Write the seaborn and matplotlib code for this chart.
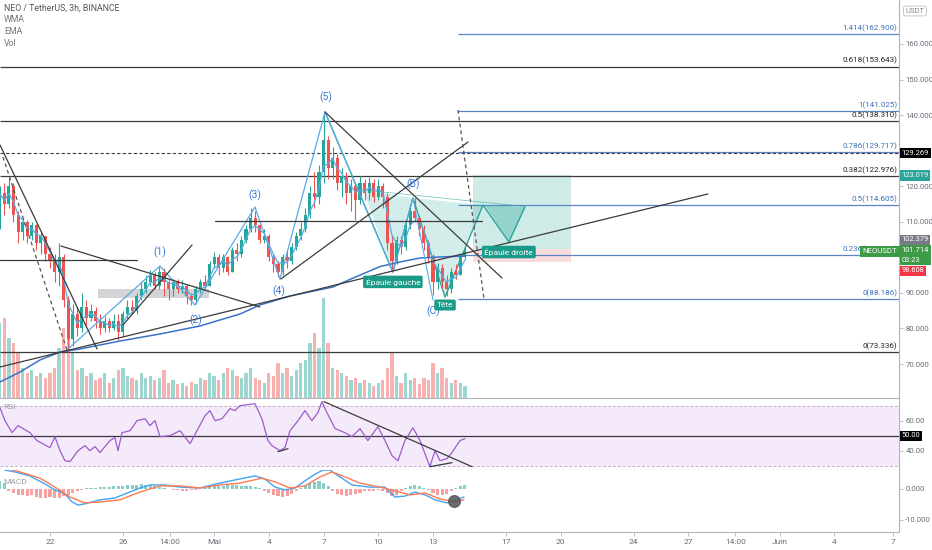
import numpy as np
import pandas as pd
import matplotlib
matplotlib.use("Agg")
import matplotlib.pyplot as plt
import matplotlib.patches as mpatches
import seaborn as sns

sns.set_style("white")
plt.rcParams['font.family'] = ['Roboto', 'DejaVu Sans']

# ---- price data (6h candles, NEO/USDT) ----
first_open = 110
close = [118, 115, 120, 112, 107, 110, 106, 109, 104, 106,
         101, 99, 96, 100, 88, 77, 84, 80, 86, 83,
         85, 82, 80, 82, 80, 82, 79, 84, 86, 85,
         89, 91, 93, 95, 92, 96, 93, 91, 93, 91,
         92, 89, 88, 91, 93, 92, 98, 100, 97, 100,
         96, 102, 101, 105, 108, 111, 109, 105, 106, 100,
         98, 96, 100, 99, 103, 106, 108, 112, 118, 117,
         124, 133, 125, 128, 121, 123, 118, 120, 116, 121,
         118, 121, 117, 120, 117, 104, 99, 105, 103, 109,
         113, 111, 108, 104, 100, 93, 97, 93, 91, 96,
         95, 100, 101.7]
high = [120, 121, 122.3, 121, 113, 111, 110.5, 110, 109.5, 107.5,
        106, 103, 101, 104, 101, 89, 87, 86, 90, 88,
        87, 86, 84, 83.5, 83, 84, 84, 85, 88, 88,
        90, 93, 95, 96.5, 96, 97.5, 97, 94, 94, 94,
        93.5, 92.5, 90, 92, 94, 95, 99, 101.5, 101, 101,
        100.5, 103, 104, 106, 109, 113.9, 113, 109.5, 108, 106.5,
        101, 99, 101, 102, 104, 107, 110, 114, 120, 124,
        126, 141, 134, 131, 129, 125, 124, 122, 121, 123,
        122, 122.5, 122, 122, 121, 118, 106, 106, 106, 110,
        115, 116.7, 112, 109, 105, 101, 98.5, 98, 95, 97,
        98, 101, 103]
low = [108, 112, 114, 110, 104, 105, 104, 105, 102, 101,
       99, 97, 93, 92, 86, 73.5, 75, 78, 79, 81,
       82, 80, 78.5, 79, 79, 79.5, 76.8, 78, 83, 84,
       84, 88, 90, 92, 91, 91, 89, 88, 89, 90,
       90, 87, 86.6, 87, 90, 91, 92, 97, 95, 96,
       95, 96, 99, 100, 104, 107, 107, 104, 104, 99,
       96, 94.5, 95, 97, 98, 102, 105, 107, 111, 114,
       115, 121, 122, 122, 119, 117, 115, 113, 110.5, 115,
       116, 116, 115.5, 116, 114, 102, 96, 98, 101, 102,
       108, 110, 106, 102, 98.5, 89.5, 91, 91.5, 89.2, 90,
       94, 95, 99.5]
volume = [75, 80, 60, 55, 45, 30, 25, 28, 22, 25,
          20, 25, 30, 50, 70, 75, 45, 28, 30, 22,
          25, 18, 20, 25, 15, 20, 28, 30, 22, 20,
          18, 25, 20, 22, 18, 20, 28, 15, 18, 14,
          15, 12, 16, 14, 20, 18, 25, 22, 18, 25,
          30, 28, 22, 20, 25, 30, 20, 18, 15, 25,
          22, 35, 25, 30, 22, 28, 35, 38, 55, 65,
          50, 100, 55, 30, 28, 25, 22, 18, 20, 15,
          18, 15, 12, 15, 18, 30, 45, 22, 15, 25,
          18, 20, 14, 20, 18, 35, 25, 30, 20, 15,
          18, 15, 12]
macd_hist = [2.5, 2.0,
             -0.8, -1.2, -1.8, -2.0, -2.2, -2.0,
             -2.5, -2.8, -3.0, -2.6, -2.8, -3.0, -2.4, -1.8,
             -1.2, -0.8, -0.4, 0.2,
             0.3, 0.4, 0.5, 0.6, 0.7, 0.8, 0.8, 1.0, 1.2, 1.3, 1.4,
             1.5, 1.4, 1.2, 0.9, 0.6, 0.3, 0.1,
             -0.2, -0.4, -0.5, -0.5, -0.4, -0.3, -0.1, 0.2,
             0.5, 0.8, 1.0, 1.1, 1.2, 1.3, 1.2, 1.1, 1.0, 0.9, 0.7, 0.4,
             -0.6, -1.2, -1.8, -2.4, -2.6, -2.2, -1.6,
             -0.6, 0.4, 1.2, 1.8, 2.2, 2.5, 2.0, 1.0,
             -0.8, -1.5, -2.0, -2.2, -2.0, -1.6, -1.2,
             -0.8, -0.6, -0.5, -0.3, -0.6, -1.4, -2.2,
             -1.8, -0.8, 0.2, 0.8, 1.2, 1.0,
             0.4, -0.4, -1.2, -1.8, -2.0, -1.6, -0.8,
             0.2, 0.8, 1.2]

# long EMA, days since 22 Apr
ema_days = [-2.74, -1.64, -0.55, 0.55, 1.64, 3.84, 6.03, 8.22, 10.42, 11.51,
            13.16, 15.52, 16.45, 18.09, 19.19, 20.29, 21.38, 22.75]
ema_vals = [64.95, 67.76, 71.14, 73.39, 74.23, 76.48, 78.45, 80.70, 84.07, 86.60,
            89.13, 91.67, 93.8, 97.4, 98.70, 99.82, 100.10, 100.38]

rsi_days = [-2.74, -2.47, -2.08, -1.75, -1.10, -0.71, 0, 0.27, 0.55, 0.82,
            1.10, 1.54, 1.92, 2.19, 2.47, 2.74, 3.29, 3.56, 3.73, 3.95,
            4.39, 4.77, 5.21, 5.48, 5.76, 6.03, 6.58, 7.13, 7.68, 8.06,
            8.50, 8.77, 9.05, 9.43, 9.87, 10.14, 10.42, 11.24, 11.62, 11.95,
            12.17, 12.61, 12.88, 13.16, 13.60, 13.98, 14.36, 14.69, 14.91, 15.13,
            15.63, 16.17, 16.56, 17.00, 17.43, 17.98, 18.37, 18.75, 19.08, 19.46,
            19.90, 20.29, 20.83, 21.11, 21.38, 21.77, 22.04, 22.48, 22.75]
rsi_vals = [68.7, 60, 52, 56.7, 52, 46.7, 42, 49.3, 40, 33.3,
            32.7, 40, 43.3, 40, 42.7, 38.7, 46.7, 48.7, 40, 52,
            53.3, 60, 61.3, 56.7, 60, 49.3, 50, 53.3, 44.7, 53.3,
            63.3, 66.7, 60, 61.3, 68, 66.7, 70, 71.3, 61.3, 46.7,
            43.3, 40, 42, 53.3, 60, 66.7, 60, 65.3, 72.7, 66.7,
            54.7, 52, 49.3, 54.7, 46.7, 56, 46.7, 36.7, 33.3, 46.7,
            55.3, 46.7, 29.3, 40, 33.3, 34.7, 38.7, 46.7, 48]

macd_days = [-2.47, -1.92, -1.10, -0.27, 0.27, 0.82, 1.21, 1.54, 1.92, 2.74,
             3.56, 4.11, 4.93, 5.48, 6.30, 7.13, 8.22, 8.88, 9.87, 11.24,
             11.79, 12.34, 12.88, 13.43, 13.98, 14.53, 14.97, 15.35, 15.90, 16.56,
             17.54, 18.37, 18.91, 19.46, 20.01, 20.56, 21.11, 21.77, 22.31, 22.70]
macd_vals = [6.1, 5.5, 4.2, 1.6, -0.3, -1.6, -4.2, -5.2, -4.8, -3.5,
             -2.9, -1.6, 0.3, 1.3, 1.3, 0.6, 0.3, 1.3, 2.6, 4.2,
             3.2, 0.6, -0.3, 0.3, 2.6, 4.8, 6.1, 6.1, 3.9, 1.3,
             0.6, 0.6, -2.6, -2.3, -1.0, -1.9, -3.5, -4.5, -3.5, -2.6]
sig_days = [-2.47, -1.64, -0.55, 0.27, 1.10, 1.92, 2.74, 3.84, 4.93, 6.03,
            7.13, 8.22, 9.32, 10.42, 11.62, 12.34, 13.16, 13.98, 14.80, 15.46,
            16.17, 16.99, 18.09, 18.91, 19.74, 20.56, 21.38, 22.20, 22.70]
sig_vals = [6.8, 5.5, 3.5, 0.6, -2.6, -4.5, -4.2, -3.5, -1.0, 1.0,
            1.0, 0.3, 1.3, 1.9, 3.5, 2.3, 0.3, 1.0, 3.9, 5.5,
            3.9, 1.9, 0.6, -0.6, -1.9, -1.3, -3.2, -4.2, -3.5]

# fib levels
fib_black = [(0.618, 153.643), (0.5, 138.310), (0.382, 122.976), (0, 73.336)]
fib_blue = [(1.414, 162.900), (1, 141.025), (0.786, 129.717), (0.5, 114.605),
            (0.236, 100.656), (0, 88.186)]
fib_blue_start = 22.37
dashed_level = 129.269

# drawings (days, price)
trendlines = [((-2.74, 131.60), (2.58, 74.23)),
              ((-2.74, 69.17), (36.07, 117.82)),
              ((0.60, 103.19), (11.51, 86.04)),
              ((4.00, 80.98), (7.79, 103.47)),
              ((12.66, 93.92), (22.92, 132.44)),
              ((15.08, 140.88), (24.78, 94.20)),
              ((-2.74, 99.26), (4.77, 99.26)),
              ((9.05, 110.22), (23.68, 110.22))]
dashed_lines = [((-2.58, 128.22), (0.93, 73.95)),
                ((22.37, 141.44), (23.79, 88.57))]
wave_x = [0.93, 6.03, 7.95, 11.24, 12.61, 15.08]
wave_y = [73.95, 97.57, 86.6, 114.16, 93.92, 140.88]
abc_x = [15.08, 18.80, 19.90, 21.0]
abc_y = [140.88, 95.88, 116.69, 88.0]
hs_x = [15.08, 18.80, 19.90, 21.66, 23.74, 25.16, 26.04]
hs_y = [140.88, 95.88, 116.69, 88.85, 114.72, 104.32, 114.16]
wave_labels = [("(1)", 6.03, 101.5), ("(2)", 8.0, 82.4), ("(3)", 11.24, 117.5),
               ("(4)", 12.55, 90.5), ("(5)", 15.13, 145.1), ("(B)", 19.9, 120.6),
               ("(C)", 21.0, 84.9)]
hs_labels = [("Épaule gauche", 18.8, 93.1), ("Tête", 21.66, 86.6),
             ("Épaule droite", 25.16, 101.5)]

tick_days = [0, 4, 6.58, 9, 12, 15, 18, 21, 25, 28, 32, 35, 37.58, 40, 43, 46.2]
tick_labels = ['22', '26', '14:00', 'Mai', '4', '7', '10', '13', '17', '20',
               '24', '27', '14:00', 'Juin', '4', '7']

GREEN = '#26a69a'
RED = '#ef5350'
BLUE_FIB = '#5b84c4'
LINE = '#3b3b3b'
TXT = '#6a6d78'

times = pd.date_range('2021-04-19 06:00', periods=len(close), freq='6h')
x = ((times - pd.Timestamp('2021-04-22')) / pd.Timedelta(days=1)).to_numpy()
c = np.array(close, dtype=float)
o = np.concatenate([[first_open], c[:-1]])
hi = np.array(high)
lo = np.array(low)
up = c >= o
cols = np.where(up, GREEN, RED)

W, H = 932, 550


def frame(top, bottom):
    return [0, 1 - bottom / H, 899 / W, (bottom - top) / H]


fig = plt.figure(figsize=(9.32, 5.5), dpi=100)
ax = fig.add_axes(frame(0, 398))
ax_vol = ax.twinx()
ax_rsi = fig.add_axes(frame(398, 470), sharex=ax)
ax_macd = fig.add_axes(frame(470, 532), sharex=ax)
ax.set_zorder(ax_vol.get_zorder() + 1)
ax.patch.set_visible(False)

XMIN, XMAX = -2.74, 46.55
ax.set_xlim(XMIN, XMAX)
ax.set_ylim(60.45, 172.37)

# volume
ax_vol.bar(x, volume, width=0.18, color=cols, alpha=0.45, linewidth=0)
ax_vol.set_ylim(0, 398)
ax_vol.yaxis.set_visible(False)
for s in ax_vol.spines.values():
    s.set_visible(False)

# fib + horizontal levels
for r, lv in fib_black:
    ax.hlines(lv, XMIN, XMAX, color=LINE, lw=0.9, zorder=2)
    ax.text(46.45, lv + 0.6, f"{r:g}({lv:.3f})", ha='right', va='bottom',
            fontsize=5.8, color='#222222')
for r, lv in fib_blue:
    ax.hlines(lv, fib_blue_start, XMAX, color=BLUE_FIB, lw=0.9, zorder=2)
    ax.text(46.45, lv + 0.6, f"{r:g}({lv:.3f})", ha='right', va='bottom',
            fontsize=5.8, color='#3d6fb8')
ax.hlines(dashed_level, XMIN, XMAX, color=LINE, lw=0.8, linestyles=(0, (3, 2)), zorder=2)

# grey consolidation box
ax.add_patch(mpatches.Rectangle((2.63, 88.6), 6.09, 2.5, color='#b8b8bc', alpha=0.6, lw=0, zorder=2))

# long / short position box
ax.add_patch(mpatches.Rectangle((23.19, 102.35), 5.37, 20.81, color=GREEN, alpha=0.22, lw=0, zorder=1))
ax.add_patch(mpatches.Rectangle((23.19, 98.7), 5.37, 3.65, color=RED, alpha=0.2, lw=0, zorder=1))

# head & shoulders fills
ax.fill([17.16, 18.80, 19.90], [118.94, 95.88, 116.69], color=GREEN, alpha=0.2, lw=0, zorder=2)
ax.fill([19.90, 21.66, 23.74], [116.69, 88.85, 114.72], color=GREEN, alpha=0.2, lw=0, zorder=2)
ax.fill([23.85, 25.16, 26.04], [114.72, 104.32, 114.16], color=GREEN, alpha=0.35, lw=0, zorder=2)
ax.plot([17.16, 26.04], [118.94, 114.3], color=GREEN, lw=0.6, alpha=0.6, zorder=3)
ax.plot(hs_x, hs_y, color=GREEN, lw=1.0, zorder=3)

# candles
ax.vlines(x, lo, hi, color=cols, lw=0.8, zorder=4)
ax.bar(x, np.maximum(np.abs(c - o), 0.3), bottom=np.minimum(o, c), width=0.17,
       color=cols, linewidth=0, zorder=4)

# moving averages
wma = pd.Series(c).rolling(4, min_periods=1).apply(
    lambda w: np.dot(w, np.arange(1, len(w) + 1)) / np.arange(1, len(w) + 1).sum(), raw=True)
sns.lineplot(x=x, y=wma.to_numpy(), ax=ax, color='#55aee8', lw=0.9, estimator=None, zorder=5)
sns.lineplot(x=ema_days, y=ema_vals, ax=ax, color='#3b72c8', lw=1.1, estimator=None, zorder=5)

# elliott waves
ax.plot(wave_x, wave_y, color='#5aa9e6', lw=0.9, zorder=5)
ax.plot(abc_x, abc_y, color='#5aa9e6', lw=0.8, zorder=5)

# trend lines
for (x0, y0), (x1, y1) in trendlines:
    ax.plot([x0, x1], [y0, y1], color=LINE, lw=0.9, zorder=6)
for (x0, y0), (x1, y1) in dashed_lines:
    ax.plot([x0, x1], [y0, y1], color='#555555', lw=0.9, ls=(0, (3, 2.5)), zorder=6)

for t, tx, ty in wave_labels:
    ax.text(tx, ty, t, ha='center', va='center', fontsize=7.5, color='#3d7bd1', zorder=7)
for t, tx, ty in hs_labels:
    ax.text(tx, ty, t, ha='center', va='center', fontsize=6, color='white', zorder=8,
            bbox=dict(boxstyle='round,pad=0.3,rounding_size=0.2', fc='#1a9a88', ec='none'))

# price axis
ax.yaxis.tick_right()
price_ticks = [70, 80, 90, 110, 120, 140, 150, 160]
ax.set_yticks(price_ticks)
ax.set_yticklabels([f"{v:.3f}" for v in price_ticks])


def price_tag(axis, y, text, fc, tc='white', va='center'):
    axis.text(1.003, y, text, transform=axis.get_yaxis_transform(), ha='left', va=va,
              fontsize=5.4, color=tc, zorder=10, clip_on=False, linespacing=1.5,
              bbox=dict(boxstyle='square,pad=0.22', fc=fc, ec='none'))


price_tag(ax, 129.269, "129.269", 'black')
price_tag(ax, 123.019, "123.019", GREEN)
price_tag(ax, 104.9, "102.379", '#787b86')
price_tag(ax, 102.9, "101.714\n03:23", '#3d9a45', va='top')
price_tag(ax, 96.2, "98.608", '#f23645')
ax.text(46.45, 101.714, "NEOUSDT", ha='right', va='center', fontsize=5.6, color='white', zorder=10,
        bbox=dict(boxstyle='square,pad=0.3', fc='#3d9a45', ec='none'))

# RSI
ax_rsi.set_ylim(27.1, 75.1)
ax_rsi.axhspan(30, 70, color='#b25fe0', alpha=0.13, lw=0)
ax_rsi.axhline(70, color='#c0b0c8', lw=0.7, ls=(0, (3, 2)))
ax_rsi.axhline(30, color='#c0b0c8', lw=0.7, ls=(0, (3, 2)))
ax_rsi.axhline(50, color='#3a3340', lw=0.9)
sns.lineplot(x=rsi_days, y=rsi_vals, ax=ax_rsi, color='#9c5ccc', lw=0.9, estimator=None)
ax_rsi.plot([15.02, 23.14], [72.7, 29.3], color=LINE, lw=0.9)
ax_rsi.plot([12.5, 13.05], [39.3, 41.3], color=LINE, lw=0.9)
ax_rsi.plot([20.83, 22.04], [29.3, 32.0], color=LINE, lw=0.9)
ax_rsi.yaxis.tick_right()
ax_rsi.set_yticks([40, 60])
ax_rsi.set_yticklabels(["40.00", "60.00"])
price_tag(ax_rsi, 50, "50.00", 'black')
ax_rsi.text(0.004, 0.88, "RSI", transform=ax_rsi.transAxes, fontsize=6, color='#9a9aa5', va='center')

# MACD
ax_macd.set_ylim(-13.9, 6.13)
hcol = [GREEN if v >= 0 else RED for v in macd_hist]
ax_macd.bar(x, macd_hist, width=0.17, color=hcol, alpha=0.55, linewidth=0)
sns.lineplot(x=macd_days, y=macd_vals, ax=ax_macd, color='#42a5f5', lw=1.0, estimator=None)
sns.lineplot(x=sig_days, y=sig_vals, ax=ax_macd, color='#ff7a50', lw=1.0, estimator=None)
ax_macd.scatter([22.15], [-3.9], s=70, color='#555555', alpha=0.85, zorder=6)
ax_macd.yaxis.tick_right()
ax_macd.set_yticks([-10, 0])
ax_macd.set_yticklabels(["-10.000", "0.000"])
ax_macd.text(0.004, 0.8, "MACD", transform=ax_macd.transAxes, fontsize=6, color='#9a9aa5', va='center')

ax_macd.set_xticks(tick_days)
ax_macd.set_xticklabels(tick_labels)

for a in (ax, ax_rsi, ax_macd):
    a.set_xlabel('')
    a.set_ylabel('')
    a.spines['left'].set_visible(False)
    a.spines['top'].set_visible(False)
    a.spines['right'].set_color('#b2b5be')
    a.spines['bottom'].set_color('#b2b5be')
    a.spines['right'].set_linewidth(0.8)
    a.spines['bottom'].set_linewidth(0.8)
    a.tick_params(axis='y', direction='out', length=3, width=0.6, color='#b2b5be',
                  labelsize=5.6, labelcolor=TXT, pad=1.5)
    a.tick_params(axis='x', bottom=False, labelbottom=False)
ax_macd.tick_params(axis='x', bottom=True, labelbottom=True, direction='out', length=3,
                    width=0.6, color='#b2b5be', labelsize=6, labelcolor=TXT, pad=2)

# header
fig.text(4 / W, 1 - 8 / H, "NEO / TetherUS, 3h, BINANCE", fontsize=6.3, color='#555555', va='center')
for i, t in enumerate(["WMA", "EMA", "Vol"]):
    fig.text(4 / W, 1 - (20 + 11.5 * i) / H, t, fontsize=6.3, color='#777777', va='center')
fig.text(915 / W, 1 - 11 / H, "USDT", fontsize=5.5, color='#888888', ha='center', va='center',
         bbox=dict(boxstyle='round,pad=0.25', fc='white', ec='#c0c0c0', lw=0.6))

fig.savefig("out.png", dpi=100, facecolor='white')
